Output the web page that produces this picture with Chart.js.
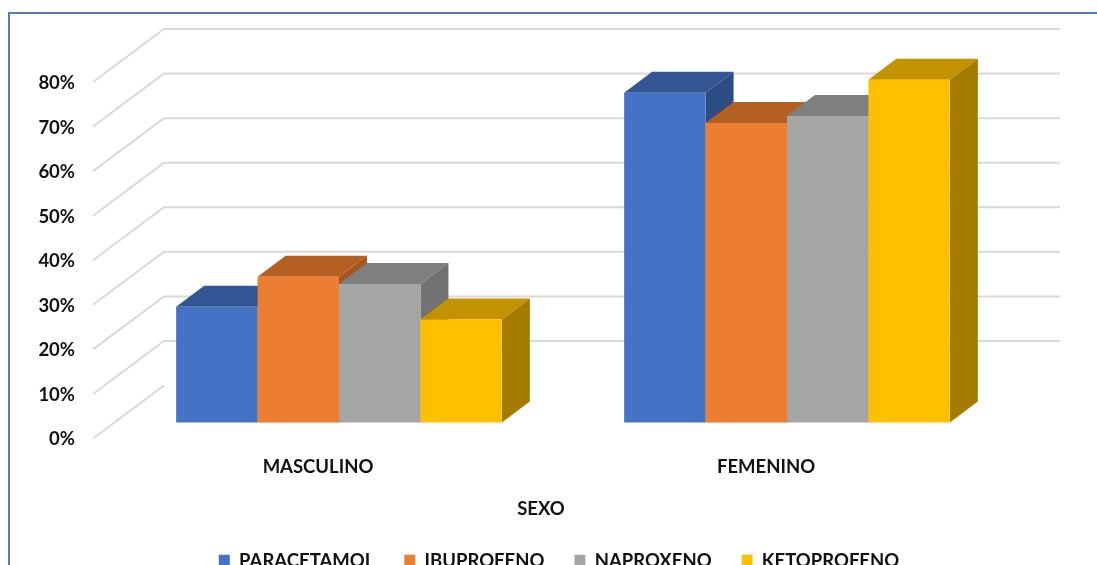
<!DOCTYPE html>
<html>
<head>
<meta charset="utf-8">
<script src="https://cdn.jsdelivr.net/npm/chart.js@4"></script>
<style>
  html, body { margin: 0; padding: 0; background: #fff; overflow: hidden; width: 1097px; height: 565px; }
  #frame { position: absolute; left: 8px; top: 12px; width: 2000px; height: 2000px; border: 2px solid #4f81bd; }
  #myChart { position: absolute; left: 0; top: 0; }
</style>
</head>
<body>
<div id="frame"></div>
<!-- canvas is bigger than the window: the legend is cut at the bottom in the original and centred off the middle -->
<canvas id="myChart" width="1118" height="580"></canvas>
<script>
// values, in percent
const categories = ["MASCULINO", "FEMENINO"];
const paracetamol = [26, 74];
const ibuprofeno = [32.7, 67.2];
const naproxeno = [31.1, 68.8];
const ketoprofeno = [23.1, 76.9];
const seriesNames = ["PARACETAMOL", "IBUPROFENO", "NAPROXENO", "KETOPROFENO"];
const axisTitle = "SEXO";

const frontColors = ["#4472C4", "#ED7D31", "#A5A5A5", "#FFC000"];
const topColors = ["#335593", "#B46023", "#7F7F7F", "#C29200"];
const sideColors = ["#2C4C84", "#A85620", "#727272", "#A67C00"];

const textFont = { family: "Lato", size: 18.5, weight: "bold" };
const textColor = "#111111";

// fake 3D: bars sit in the middle of the floor, walls go further back
const barDepth = { x: 28, y: -21 };
const wallBack = { x: 49, y: -37 };
const wallFront = { x: -22, y: 16 };

const threeD = {
    id: "threeD",
    // walls go behind the bars
    beforeDatasetsDraw(chart) {
        const ctx = chart.ctx;
        const area = chart.chartArea;
        const y = chart.scales.y;
        ctx.save();
        ctx.strokeStyle = "#d9d9d9";
        ctx.lineWidth = 2;
        y.ticks.forEach(t => {
            const py = y.getPixelForValue(t.value);
            ctx.beginPath();
            ctx.moveTo(area.left + wallFront.x, py + wallFront.y);
            ctx.lineTo(area.left + wallBack.x, py + wallBack.y);
            if (t.value > 0) ctx.lineTo(area.right + wallBack.x, py + wallBack.y);
            ctx.stroke();
        });
        ctx.restore();
    },
    // stop the default drawing, it paints the first dataset on top
    beforeDatasetDraw() {
        return false;
    },
    afterDatasetsDraw(chart) {
        const ctx = chart.ctx;
        chart.data.datasets.forEach((ds, i) => {
            chart.getDatasetMeta(i).data.forEach(bar => {
                const left = bar.x - bar.width / 2;
                const right = bar.x + bar.width / 2;
                // top face
                ctx.fillStyle = topColors[i];
                ctx.beginPath();
                ctx.moveTo(left, bar.y);
                ctx.lineTo(left + barDepth.x, bar.y + barDepth.y);
                ctx.lineTo(right + barDepth.x, bar.y + barDepth.y);
                ctx.lineTo(right, bar.y);
                ctx.closePath();
                ctx.fill();
                // side face
                ctx.fillStyle = sideColors[i];
                ctx.beginPath();
                ctx.moveTo(right, bar.y);
                ctx.lineTo(right + barDepth.x, bar.y + barDepth.y);
                ctx.lineTo(right + barDepth.x, bar.base + barDepth.y);
                ctx.lineTo(right, bar.base);
                ctx.closePath();
                ctx.fill();
                bar.draw(ctx);
            });
        });
    },
    afterDraw(chart) {
        const ctx = chart.ctx;
        const area = chart.chartArea;
        // axis title is not centred under the plot in the original, so it is placed by hand
        ctx.save();
        ctx.font = textFont.weight + " " + textFont.size + "px " + textFont.family;
        ctx.fillStyle = textColor;
        ctx.textAlign = "center";
        ctx.textBaseline = "middle";
        ctx.fillText(axisTitle, (area.left + area.right) / 2 - 22, area.bottom + 87);
        ctx.restore();
    }
};

const seriesValues = [paracetamol, ibuprofeno, naproxeno, ketoprofeno];

new Chart(document.getElementById("myChart").getContext("2d"), {
    type: "bar",
    plugins: [threeD],
    data: {
        labels: categories,
        datasets: seriesNames.map((name, i) => ({
            label: name,
            data: seriesValues[i],
            backgroundColor: frontColors[i],
            borderWidth: 0
        }))
    },
    options: {
        responsive: false,
        animation: false,
        events: [],
        datasets: { bar: { categoryPercentage: 0.727, barPercentage: 1 } },
        layout: { padding: { left: 0, right: 0, top: 66, bottom: 0 } },
        scales: {
            x: {
                grid: { display: false, drawTicks: false },
                border: { display: false },
                ticks: { font: textFont, color: textColor, padding: 33, labelOffset: -21, maxRotation: 0 },
                afterFit(axis) { axis.height = 99; }
            },
            y: {
                min: 0,
                max: 80,
                grid: { display: false, drawTicks: false },
                border: { display: false },
                ticks: {
                    stepSize: 10,
                    font: textFont,
                    color: textColor,
                    padding: 40,
                    labelOffset: 17,
                    callback: v => v + "%"
                },
                afterFit(axis) { axis.width = 115; }
            },
            // empty axis on the right, it only holds the space so the legend stays centred on the whole canvas
            pad: {
                position: "right",
                grid: { display: false, drawTicks: false },
                border: { display: false },
                ticks: { display: false },
                afterFit(axis) { axis.width = 107; }
            }
        },
        plugins: {
            title: { display: false },
            tooltip: { enabled: false },
            legend: {
                position: "bottom",
                labels: {
                    boxWidth: 11,
                    boxHeight: 12,
                    padding: 30,
                    font: textFont,
                    color: textColor
                }
            }
        }
    }
});
</script>
</body>
</html>
